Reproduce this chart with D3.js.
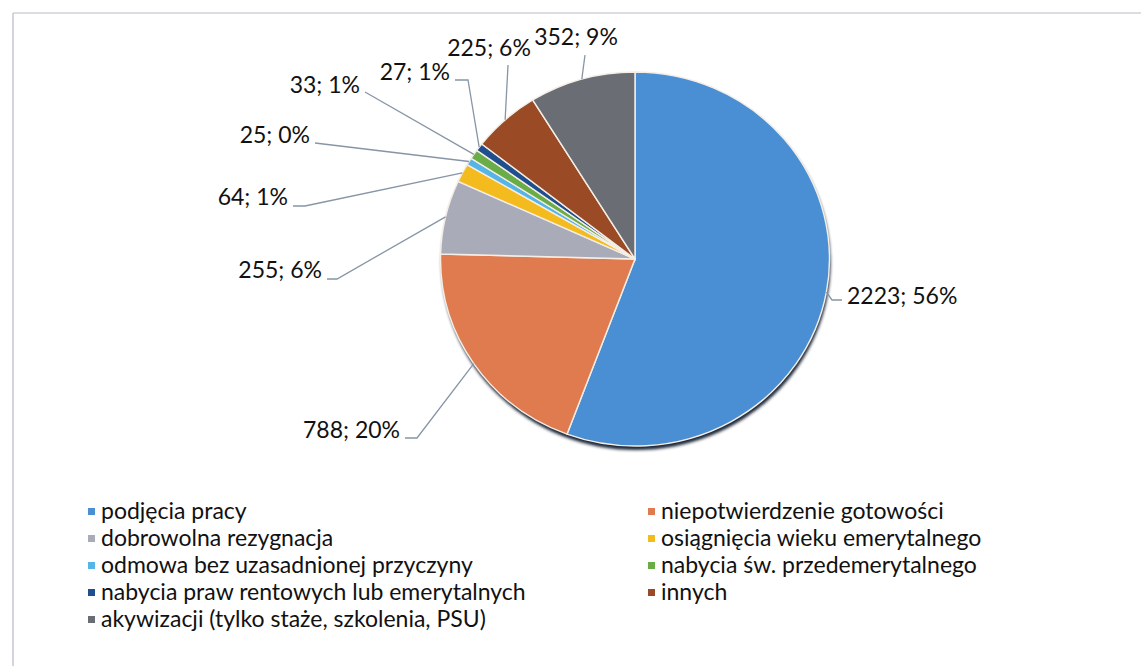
<!DOCTYPE html>
<html>
<head>
<meta charset="utf-8">
<style>
  body { margin: 0; background: #fff; }
  svg { display: block; }
  .lbl { font: 23px Lato, "Open Sans", sans-serif; fill: #111; }
  .leg text { font: 23px Lato, "Open Sans", sans-serif; fill: #111; }
  .leader { fill: none; stroke: #8795a6; stroke-width: 1.3; }
</style>
<script src="https://d3js.org/d3.v7.min.js"></script>
</head>
<body>
<svg width="1141" height="666"></svg>
<script>
// data
var categories = ["podjęcia pracy", "niepotwierdzenie gotowości", "dobrowolna rezygnacja",
  "osiągnięcia wieku emerytalnego", "odmowa bez uzasadnionej przyczyny",
  "nabycia św. przedemerytalnego", "nabycia praw rentowych lub emerytalnych",
  "innych", "akywizacji (tylko staże, szkolenia, PSU)"];
var values = [2223, 788, 255, 64, 25, 33, 27, 225, 352];
var percents = ["56%", "20%", "6%", "1%", "0%", "1%", "1%", "6%", "9%"];
var colors = ["#4a8fd4", "#e07b50", "#a9abb8", "#f4bb1e", "#56b4e6",
  "#6aac48", "#1f4f8e", "#9a4a24", "#6a6d74"];

// label layout: text anchor point, anchor, and leader bend/end points
var labelLayout = [
  { x: 847, y: 296, anchor: "start", pts: [[832, 300], [842, 300]] },
  { x: 400, y: 430, anchor: "end",   pts: [[417, 438], [405, 438]] },
  { x: 322, y: 270, anchor: "end",   pts: [[337, 279], [327, 279]] },
  { x: 288, y: 197, anchor: "end",   pts: [[305, 206], [293, 206]] },
  { x: 310, y: 135, anchor: "end",   pts: [[315, 143]] },
  { x: 360, y: 85,  anchor: "end",   pts: [[365, 92]] },
  { x: 450, y: 72,  anchor: "end",   pts: [[468, 80], [455, 80]] },
  { x: 489, y: 48,  anchor: "middle", pts: [[508, 65]] },
  { x: 576, y: 37,  anchor: "middle", pts: [[585, 55]] }
];

var svg = d3.select("svg");
var cx = 635, cy = 259, r = 187, sx = 1.04;

// frame
svg.append("line").attr("x1", 13).attr("x2", 1141).attr("y1", 13).attr("y2", 13)
  .attr("stroke", "#cfd2da").attr("stroke-width", 1.5);
svg.append("line").attr("x1", 13).attr("x2", 13).attr("y1", 13).attr("y2", 666)
  .attr("stroke", "#c4c6d4").attr("stroke-width", 1.5);

var defs = svg.append("defs");
defs.append("filter").attr("id", "blur").append("feGaussianBlur").attr("stdDeviation", 1.5);

var pie = d3.pie().sort(null).value(function(d) { return d; });
var arcs = pie(values);
var arc = d3.arc().innerRadius(0).outerRadius(r);

var g = svg.append("g").attr("transform", "translate(" + cx + "," + cy + ") scale(" + sx + ",1)");
g.append("circle").attr("cx", 1).attr("cy", 4).attr("r", r).attr("fill", "#1c2838")
  .attr("filter", "url(#blur)");
g.selectAll("path.slice").data(arcs).enter().append("path")
  .attr("class", "slice")
  .attr("d", arc)
  .attr("fill", function(d, i) { return colors[i]; })
  .attr("stroke", "#f4eee6").attr("stroke-width", 1.4);

// leaders: start at the rim on each slice's mid angle
function rim(d) {
  var a = (d.startAngle + d.endAngle) / 2;
  return [cx + sx * r * Math.sin(a), cy - r * Math.cos(a)];
}
var line = d3.line();
svg.selectAll("path.leader").data(arcs).enter().append("path")
  .attr("class", "leader")
  .attr("d", function(d, i) { return line([rim(d)].concat(labelLayout[i].pts)); });

svg.selectAll("text.lbl").data(arcs).enter().append("text")
  .attr("class", "lbl")
  .attr("x", function(d, i) { return labelLayout[i].x; })
  .attr("y", function(d, i) { return labelLayout[i].y; })
  .attr("dy", "0.35em")
  .attr("text-anchor", function(d, i) { return labelLayout[i].anchor; })
  .text(function(d, i) { return values[i] + "; " + percents[i]; });

// legend, two columns
var legX = [88, 648], legY0 = 512, legStep = 27;
var leg = svg.append("g").attr("class", "leg");
var item = leg.selectAll("g").data(categories).enter().append("g")
  .attr("transform", function(d, i) {
    return "translate(" + legX[i % 2] + "," + (legY0 + Math.floor(i / 2) * legStep) + ")";
  });
item.append("rect").attr("x", 0).attr("y", -4).attr("width", 7).attr("height", 7)
  .attr("fill", function(d, i) { return colors[i]; });
item.append("text").attr("x", 13).attr("dy", "0.32em").text(function(d) { return d; });
</script>
</body>
</html>
